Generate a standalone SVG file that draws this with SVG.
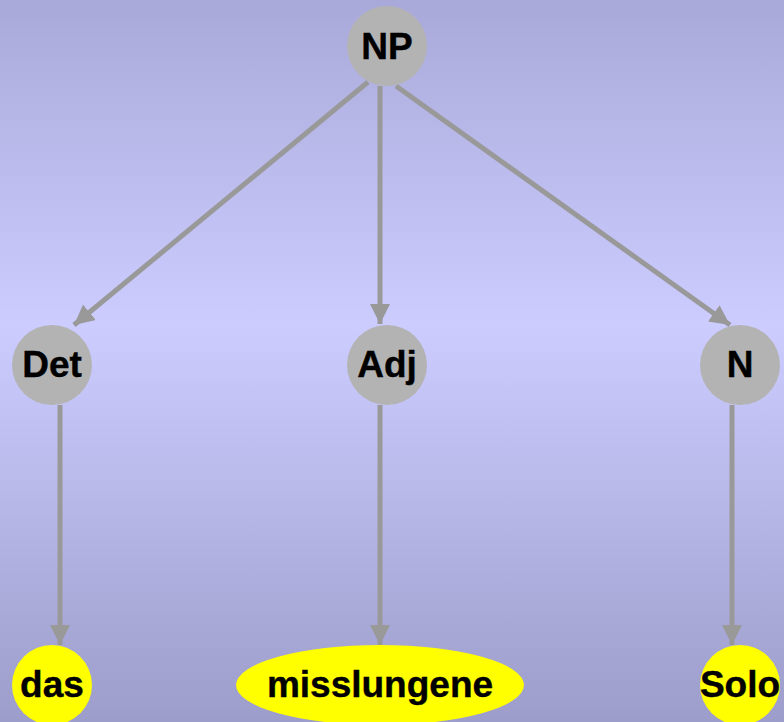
<svg xmlns="http://www.w3.org/2000/svg" width="784" height="722" viewBox="0 0 784 722">
<defs>
<linearGradient id="bg" x1="0" y1="0" x2="0" y2="1">
<stop offset="0" stop-color="#a9a9d9"/>
<stop offset="0.45" stop-color="#ccccff"/>
<stop offset="1" stop-color="#9d9dcb"/>
</linearGradient>
<marker id="ah" viewBox="0 0 10 10" refX="10" refY="5" markerWidth="4" markerHeight="4" orient="auto" markerUnits="strokeWidth">
<path d="M0,0 L10,5 L0,10 Z" fill="#999999"/>
</marker>
<style>
.edge{stroke:#999999;stroke-width:5;fill:none;marker-end:url(#ah)}
.cat{fill:#b3b3b3}
.word{fill:#ffff00}
.t{font-family:"Liberation Sans",Arial,sans-serif;font-weight:bold;font-size:37px;fill:#000;text-anchor:middle;stroke:#000;stroke-width:0.4}
</style>
</defs>
<rect width="784" height="722" fill="url(#bg)"/>
<g id="connectors">
<line class="edge" x1="368" y1="82" x2="74" y2="325"/>
<line class="edge" x1="380" y1="86" x2="380" y2="324"/>
<line class="edge" x1="396" y1="86" x2="730" y2="325"/>
<line class="edge" x1="60" y1="405" x2="60" y2="645"/>
<line class="edge" x1="380" y1="405" x2="380" y2="645"/>
<line class="edge" x1="732" y1="405" x2="732" y2="645"/>
</g>
<g id="NP"><circle class="cat" cx="387" cy="46" r="40"/><text class="t" x="387" y="59">NP</text></g>
<g id="Det"><circle class="cat" cx="52" cy="365" r="40"/><text class="t" x="52" y="377">Det</text></g>
<g id="Adj"><circle class="cat" cx="387" cy="365" r="40"/><text class="t" x="387" y="377">Adj</text></g>
<g id="N"><circle class="cat" cx="740" cy="365" r="40"/><text class="t" x="740" y="377">N</text></g>
<g id="das"><circle class="word" cx="52" cy="685" r="40"/><text class="t" x="52" y="697">das</text></g>
<g id="misslungene"><ellipse class="word" cx="380" cy="685" rx="144" ry="40"/><text class="t" x="380" y="697">misslungene</text></g>
<g id="Solo"><circle class="word" cx="740" cy="685" r="40"/><text class="t" x="740" y="697">Solo</text></g>
</svg>
